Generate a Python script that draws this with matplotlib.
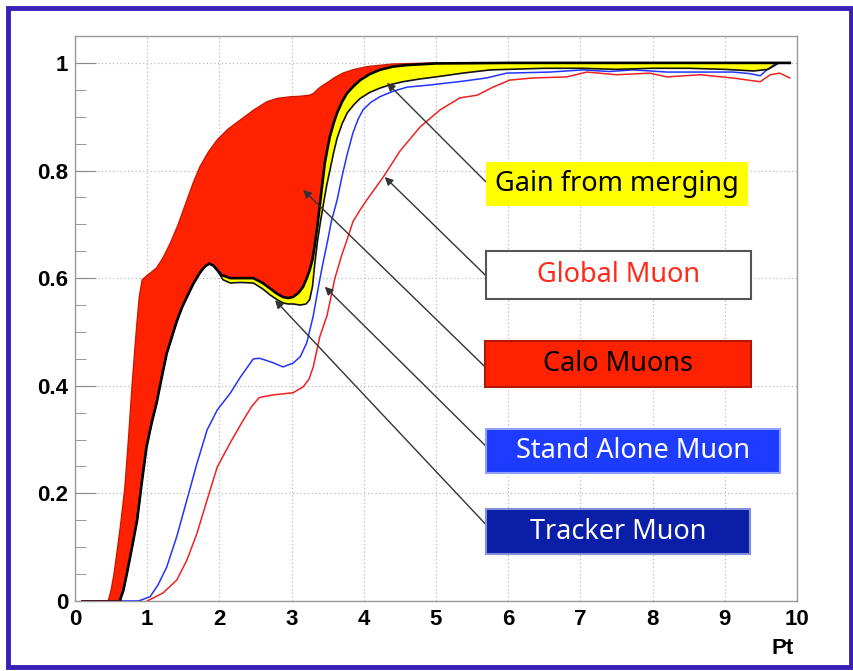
import numpy as np
import matplotlib
matplotlib.use("Agg")
import matplotlib.pyplot as plt
from matplotlib.patches import Rectangle

# Calo muon upper edge (top of red area)
calo_x = [0.1, 0.46, 0.5, 0.54, 0.58, 0.63, 0.69, 0.74, 0.79, 0.83, 0.86, 0.89, 0.93, 1.0, 1.13,
          1.22, 1.32, 1.43, 1.55, 1.64, 1.73, 1.85, 1.97, 2.12, 2.29, 2.47, 2.66, 2.8, 2.98, 3.12,
          3.25, 3.31, 3.37, 3.43, 3.49, 3.6, 3.71, 3.87, 4.04, 4.4, 5.0, 6.0, 7.0, 8.0, 9.0, 9.9]
calo_y = [0.0, 0.0, 0.02, 0.05, 0.089, 0.14, 0.21, 0.3, 0.40, 0.47, 0.52, 0.565, 0.597, 0.605, 0.619,
          0.638, 0.665, 0.7, 0.745, 0.778, 0.807, 0.835, 0.857, 0.877, 0.894, 0.912, 0.928, 0.934,
          0.937, 0.938, 0.94, 0.944, 0.952, 0.958, 0.963, 0.973, 0.981, 0.988, 0.993, 0.998, 1.0,
          1.0, 1.0, 1.0, 1.0, 1.0]

# merged efficiency (top of yellow area)
merged_x = [0.62, 0.67, 0.72, 0.79, 0.86, 0.92, 0.99, 1.06, 1.13, 1.2, 1.27, 1.34, 1.41, 1.48, 1.55,
            1.64, 1.73, 1.8, 1.86, 1.92, 1.97, 2.03, 2.15, 2.3, 2.47, 2.6, 2.7, 2.8, 2.88, 2.95,
            3.02, 3.09, 3.16, 3.21, 3.25, 3.29, 3.32, 3.36, 3.39, 3.43, 3.46, 3.5, 3.53, 3.58,
            3.63, 3.7, 3.77, 3.86, 3.95, 4.08, 4.22, 4.4, 4.6, 5.0, 6.0, 7.0, 8.0, 9.0, 9.9]
merged_y = [0.0, 0.02, 0.052, 0.1, 0.15, 0.215, 0.286, 0.33, 0.368, 0.415, 0.46, 0.49, 0.52, 0.545,
            0.565, 0.59, 0.61, 0.622, 0.627, 0.623, 0.615, 0.606, 0.6, 0.6, 0.6, 0.591, 0.581,
            0.571, 0.565, 0.563, 0.565, 0.572, 0.584, 0.6, 0.615, 0.635, 0.66, 0.7, 0.735, 0.78,
            0.814, 0.843, 0.863, 0.887, 0.907, 0.928, 0.944, 0.957, 0.968, 0.979, 0.987, 0.993,
            0.996, 0.999, 1.0, 1.0, 1.0, 1.0, 1.0]

# tracker muon
tracker_x = [0.62, 0.67, 0.72, 0.79, 0.86, 0.92, 0.99, 1.06, 1.13, 1.2, 1.27, 1.34, 1.41, 1.48, 1.55,
             1.64, 1.73, 1.8, 1.86, 1.92, 1.97, 2.05, 2.15, 2.29, 2.47, 2.6, 2.7, 2.8, 2.88, 2.95,
             3.02, 3.12, 3.2, 3.25, 3.29, 3.32, 3.36, 3.4, 3.45, 3.49, 3.53, 3.58, 3.63, 3.7, 3.77,
             3.86, 3.95, 4.08, 4.22, 4.38, 4.54, 4.77, 5.0, 5.37, 5.75, 6.5, 7.0, 7.5, 8.0, 8.5,
             9.0, 9.4, 9.6, 9.75, 9.9]
tracker_y = [0.0, 0.02, 0.052, 0.1, 0.15, 0.215, 0.286, 0.33, 0.368, 0.415, 0.46, 0.49, 0.52, 0.545,
             0.565, 0.59, 0.61, 0.622, 0.627, 0.623, 0.615, 0.597, 0.591, 0.592, 0.591, 0.58, 0.569,
             0.56, 0.554, 0.552, 0.552, 0.55, 0.552, 0.56, 0.585, 0.625, 0.67, 0.705, 0.745, 0.775,
             0.8, 0.832, 0.86, 0.887, 0.907, 0.922, 0.934, 0.945, 0.953, 0.96, 0.965, 0.97, 0.974,
             0.981, 0.987, 0.99, 0.99, 0.988, 0.99, 0.99, 0.988, 0.985, 0.988, 1.0, 1.0]

# stand alone muon
sa_x = [0.1, 0.88, 1.04, 1.15, 1.27, 1.41, 1.55, 1.69, 1.83, 1.97, 2.15, 2.29, 2.47, 2.56, 2.74, 2.88,
        3.02, 3.12, 3.21, 3.3, 3.38, 3.43, 3.5, 3.55, 3.63, 3.7, 3.77, 3.85, 3.92, 3.99, 4.1, 4.22,
        4.4, 4.6, 4.92, 5.37, 5.7, 5.98, 6.58, 7.04, 7.4, 7.73, 8.2, 8.66, 9.11, 9.35, 9.49, 9.58,
        9.72, 9.9]
sa_y = [0.0, 0.0, 0.008, 0.03, 0.063, 0.12, 0.188, 0.256, 0.318, 0.355, 0.386, 0.416, 0.45, 0.451,
        0.443, 0.435, 0.442, 0.454, 0.48, 0.53, 0.59, 0.625, 0.67, 0.705, 0.745, 0.79, 0.83, 0.87,
        0.895, 0.913, 0.927, 0.937, 0.947, 0.955, 0.959, 0.966, 0.972, 0.981, 0.983, 0.987, 0.984,
        0.987, 0.983, 0.983, 0.983, 0.98, 0.976, 0.987, 1.0, 1.0]

# global muon
glb_x = [1.0, 1.22, 1.41, 1.55, 1.69, 1.83, 1.97, 2.15, 2.33, 2.45, 2.55, 2.74, 3.02, 3.16, 3.24,
         3.3, 3.39, 3.49, 3.6, 3.7, 3.77, 3.85, 3.95, 4.04, 4.27, 4.5, 4.78, 5.06, 5.33, 5.57, 5.79,
         6.02, 6.34, 6.81, 7.09, 7.5, 7.96, 8.2, 8.66, 9.11, 9.49, 9.63, 9.76, 9.9]
glb_y = [0.0, 0.015, 0.039, 0.076, 0.126, 0.188, 0.249, 0.294, 0.336, 0.362, 0.378, 0.383, 0.387,
         0.398, 0.412, 0.435, 0.491, 0.53, 0.6, 0.645, 0.672, 0.705, 0.727, 0.745, 0.788, 0.836,
         0.881, 0.913, 0.935, 0.94, 0.955, 0.968, 0.972, 0.974, 0.983, 0.978, 0.981, 0.974, 0.978,
         0.972, 0.965, 0.978, 0.981, 0.972]

# label boxes
labels = ["Gain from merging", "Global Muon", "Calo Muons", "Stand Alone Muon", "Tracker Muon"]
box_face = ["#ffff00", "white", "#ff2200", "#1e3cff", "#0a1ea8"]
text_col = ["black", "#ff2a1a", "black", "white", "white"]
box_edge = ["none", "#555555", "#b01800", "#8fa0ff", "#8090d8"]
box_x = [(5.69, 9.32), (5.69, 9.36), (5.68, 9.36), (5.69, 9.76), (5.69, 9.35)]
box_y = [(0.734, 0.816), (0.561, 0.651), (0.398, 0.483), (0.238, 0.320), (0.087, 0.171)]
arrow_from = [(5.69, 0.779), (5.68, 0.606), (5.68, 0.435), (5.72, 0.284), (5.79, 0.128)]
arrow_to = [(4.32, 0.963), (4.29, 0.788), (3.16, 0.764), (3.46, 0.584), (2.77, 0.559)]

fig = plt.figure(figsize=(8.54, 6.71), dpi=100)
ax = fig.add_axes([75 / 854, 1 - 601 / 671, 722 / 854, 565 / 671])

# red region between calo edge and merged curve
ax.fill(np.concatenate([calo_x, merged_x[::-1]]), np.concatenate([calo_y, merged_y[::-1]]),
        color="#ff2200", lw=0, zorder=2)
ax.plot(calo_x, calo_y, color="#cc1a00", lw=1, zorder=2)
# yellow region between merged and tracker
ax.fill(np.concatenate([merged_x, tracker_x[::-1]]), np.concatenate([merged_y, tracker_y[::-1]]),
        color="#ffff00", lw=0, zorder=3)
ax.plot(tracker_x, tracker_y, color="#111111", lw=1.2, zorder=4)
ax.plot(merged_x, merged_y, color="black", lw=1.9, zorder=4)
ax.plot([0.1, 0.62], [0, 0], color="#551111", lw=2, zorder=4)

ax.plot(sa_x, sa_y, color="#2233ff", lw=1.1, zorder=3)
ax.plot(glb_x, glb_y, color="#ee2222", lw=1.1, zorder=3)

for i in range(len(labels)):
    x0, x1 = box_x[i]
    y0, y1 = box_y[i]
    ax.add_patch(Rectangle((x0, y0), x1 - x0, y1 - y0, facecolor=box_face[i],
                           edgecolor=box_edge[i], lw=1.5, zorder=6))
    ax.text((x0 + x1) / 2, (y0 + y1) / 2, labels[i], color=text_col[i], fontsize=19.5,
            family="Noto Sans", ha="center", va="center", zorder=7)
    ax.annotate("", xy=arrow_to[i], xytext=arrow_from[i], zorder=5,
                arrowprops=dict(arrowstyle="-|>", color="#333333", lw=1, mutation_scale=12,
                                shrinkA=0, shrinkB=0))

ax.set_xlim(0, 10)
ax.set_ylim(0, 1.05)
ax.set_xticks(range(0, 11))
ax.set_yticks([0, 0.2, 0.4, 0.6, 0.8, 1.0])
ax.set_yticklabels(["0", "0.2", "0.4", "0.6", "0.8", "1"])
ax.set_yticks(np.arange(0, 1.05, 0.05), minor=True)
ax.tick_params(axis="y", which="major", direction="in", length=15, color="#888888", pad=5)
ax.tick_params(axis="y", which="minor", direction="in", length=8, color="#888888")
ax.tick_params(axis="x", length=0, pad=6)
for lab in ax.get_xticklabels() + ax.get_yticklabels():
    lab.set_fontweight("bold")
    lab.set_fontsize(16)
    lab.set_family("Liberation Sans")
for s in ax.spines.values():
    s.set_color("#999999")
    s.set_linewidth(1)
ax.grid(True, color="#bbbbbb", linestyle=(0, (1, 2)), lw=0.9)
ax.set_axisbelow(True)

fig.text(783 / 854, 1 - 648 / 671, "Pt", fontsize=16, fontweight="bold",
         family="Liberation Sans", ha="center", va="center")

# blue frame around the whole picture
fig.patches.append(Rectangle((8 / 854, 4 / 671), 843 / 854, 659 / 671, transform=fig.transFigure,
                             fill=False, edgecolor="#3a1fb5", lw=3.5))

fig.savefig("out.png", dpi=100)
